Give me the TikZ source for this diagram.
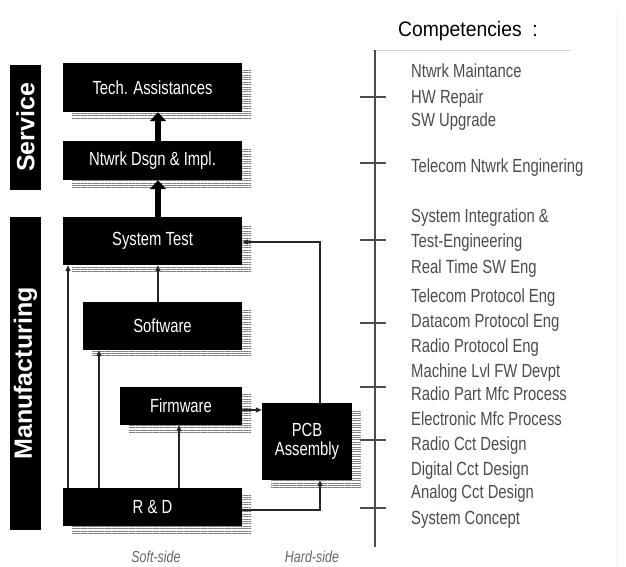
\documentclass[tikz,border=0pt]{standalone}
\usepackage{fontspec}
\setmainfont{Liberation Sans}
\newfontfamily\narrowfont[FakeStretch=0.78]{Liberation Sans}
\newfontfamily\headfont[FakeStretch=0.92]{Liberation Sans}
\usetikzlibrary{arrows.meta,shadows,patterns.meta,calc}
\begin{document}
\begin{tikzpicture}[x=1pt,y=-1pt,
  blk/.style={fill=black, draw=none, text=white, inner sep=0pt, align=center,
    font=\narrowfont\fontsize{19}{20}\selectfont,
    general shadow={pattern={Lines[distance=2.4pt,line width=0.8pt,angle=0]},
      pattern color=black!50, shadow xshift=9pt, shadow yshift=-7pt}},
  bar/.style={fill=black, text=white, inner sep=0pt, rotate=90,
    font=\bfseries\fontsize{25}{26}\selectfont},
  thinarrow/.style={draw=black!85, line width=1.1pt, -{Triangle[length=6pt,width=5pt]}},
  thickarrow/.style={draw=black, line width=6.5pt, -{Triangle[length=9pt,width=16pt]}},
  comp/.style={anchor=base west, inner sep=0pt, text=black!70,
    font=\narrowfont\fontsize{19}{20}\selectfont},
  side/.style={inner sep=0pt, text=black!60,
    font=\narrowfont\itshape\fontsize{16}{17}\selectfont},
  axisline/.style={draw=black!70, line width=1.2pt}]
\useasboundingbox (0,0) rectangle (626,567);
\fill[white] (0,0) rectangle (626,567);

% side bars
\node[bar, minimum width=125pt, minimum height=31pt] (srv) at (25.5,127.5) {Service};
\node[bar, minimum width=313pt, minimum height=31pt] (mfg) at (25.5,373.5) {Manufacturing};

% boxes
\node[blk, minimum width=179pt, minimum height=49pt] (ta) at (152.5,87.5) {Tech. Assistances};
\node[blk, minimum width=179pt, minimum height=39pt] (nd) at (152.5,160.5) {Ntwrk Dsgn \& Impl.};
\node[blk, minimum width=179pt, minimum height=48pt] (st) at (152.5,241) {System Test};
\node[blk, minimum width=159pt, minimum height=48pt] (sw) at (162.5,326) {Software};
\node[blk, minimum width=122pt, minimum height=38pt] (fw) at (181,406) {Firmware};
\node[blk, minimum width=90pt, minimum height=77pt] (pcb) at (307,441.5) {PCB\\[-1pt]Assembly};
\node[blk, minimum width=179pt, minimum height=38pt] (rd) at (152.5,507) {R \& D};

% helper coordinates
\coordinate (xa) at (158,0);
\coordinate (xl) at (68,0);
\coordinate (xs) at (99,0);
\coordinate (xf) at (179,0);
\coordinate (xp) at (320,0);
\coordinate (ys) at (0,242);
\coordinate (yf) at (0,410);
\coordinate (yr) at (0,510);

% thick arrows
\draw[thickarrow] (nd.north -| xa) -- (ta.south -| xa);
\draw[thickarrow] (st.north -| xa) -- (nd.south -| xa);

% thin connectors
\draw[thinarrow] (rd.north -| xl) -- (st.south -| xl);
\draw[thinarrow] (rd.north -| xs) -- (sw.south -| xs);
\draw[thinarrow] (rd.north -| xf) -- (fw.south -| xf);
\draw[thinarrow] (sw.north -| xa) -- (st.south -| xa);
\draw[thinarrow] (fw.east |- yf) -- (pcb.west |- yf);
\draw[thinarrow] (rd.east |- yr) -| (pcb.south -| xp);
\draw[thinarrow] (pcb.north -| xp) |- (st.east |- ys);

% side labels
\node[side] (soft) at (156,557) {Soft-side};
\node[side] (hard) at (312,557) {Hard-side};

% competencies
\node[anchor=base west, inner sep=0pt, font=\headfont\fontsize{21}{24}\selectfont] (ctitle) at (398,37) {Competencies\ \ :};
\draw[black!18, line width=0.8pt] (372,50) -- (570,50);
\draw[black!6, line width=0.8pt] (617,10) -- (617,567);

\draw[axisline] (375,50) -- (375,547);
\foreach \ty in {97,163,240,323,387,440,508}
  \draw[axisline] (360,\ty) -- (386,\ty);

\foreach \by/\txt in {78/Ntwrk Maintance, 103/HW Repair, 127/SW Upgrade,
  172/Telecom Ntwrk Enginering, 222/System Integration \&, 247/Test-Engineering,
  273/Real Time SW Eng, 302/Telecom Protocol Eng, 327/Datacom Protocol Eng,
  352/Radio Protocol Eng, 377/Machine Lvl FW Devpt, 400/Radio Part Mfc Process,
  425/Electronic Mfc Process, 450/Radio Cct Design, 475/Digital Cct Design,
  498/Analog Cct Design, 524/System Concept}
  \node[comp] at (411,\by) {\txt};
\end{tikzpicture}
\end{document}
